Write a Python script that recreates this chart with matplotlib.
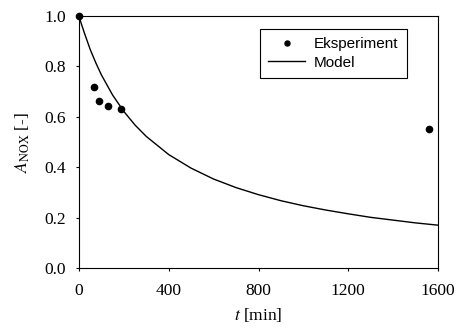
import numpy as np
import matplotlib
matplotlib.use('Agg')
import matplotlib.pyplot as plt

t_exp = [0, 65, 91, 131, 186, 1561]
a_exp = [1.0, 0.72, 0.661, 0.641, 0.63, 0.552]

# Model curve
t_mod = [0, 10, 25, 50, 75, 100, 150, 200, 250, 300, 400, 500, 600, 700,
         800, 900, 1000, 1100, 1200, 1300, 1400, 1500, 1600]
a_mod = [1.0, 0.97, 0.93, 0.867, 0.814, 0.766, 0.686, 0.621, 0.567, 0.522,
         0.450, 0.396, 0.353, 0.319, 0.291, 0.267, 0.247, 0.230, 0.215,
         0.201, 0.190, 0.179, 0.170]

x_ticks = [0, 400, 800, 1200, 1600]
y_ticks = [0.0, 0.2, 0.4, 0.6, 0.8, 1.0]

plt.rcParams['font.family'] = 'Liberation Serif'
plt.rcParams['mathtext.fontset'] = 'stix'

fig = plt.figure(figsize=(4.57, 3.31), dpi=100)
ax = fig.add_axes([79 / 457, 1 - 268 / 331, 359 / 457, 252 / 331])

ax.plot(t_exp, a_exp, 'o', color='black', markersize=4.5, label='Eksperiment',
        clip_on=False, zorder=3)
ax.plot(t_mod, a_mod, '-', color='black', linewidth=1.0, label='Model')

ax.set_xlim(0, 1600)
ax.set_ylim(0, 1.0)
ax.set_xticks(x_ticks)
ax.set_yticks(y_ticks)
ax.set_yticklabels([f'{v:.1f}' for v in y_ticks])
ax.tick_params(direction='out', length=2.5, width=0.8, labelsize=12.5,
               top=False, right=False)
ax.tick_params(axis='x', pad=8)
ax.tick_params(axis='y', pad=7)
for s in ax.spines.values():
    s.set_linewidth(0.8)

ax.set_xlabel('$t$ [min]', fontsize=12.5, labelpad=5)
ax.set_ylabel('$A_{\\mathrm{NOX}}$ [-]', fontsize=12.5, labelpad=9)

leg = ax.legend(loc='upper right', bbox_to_anchor=(328 / 359, 1 - 13 / 252),
                prop={'family': 'Liberation Sans', 'size': 11},
                fancybox=False, edgecolor='black', framealpha=1,
                handlelength=2.4, borderpad=0.55, labelspacing=0.28,
                handletextpad=0.6, markerscale=0.8, borderaxespad=0)
leg.get_frame().set_linewidth(0.8)

fig.savefig('out.png', dpi=100)
